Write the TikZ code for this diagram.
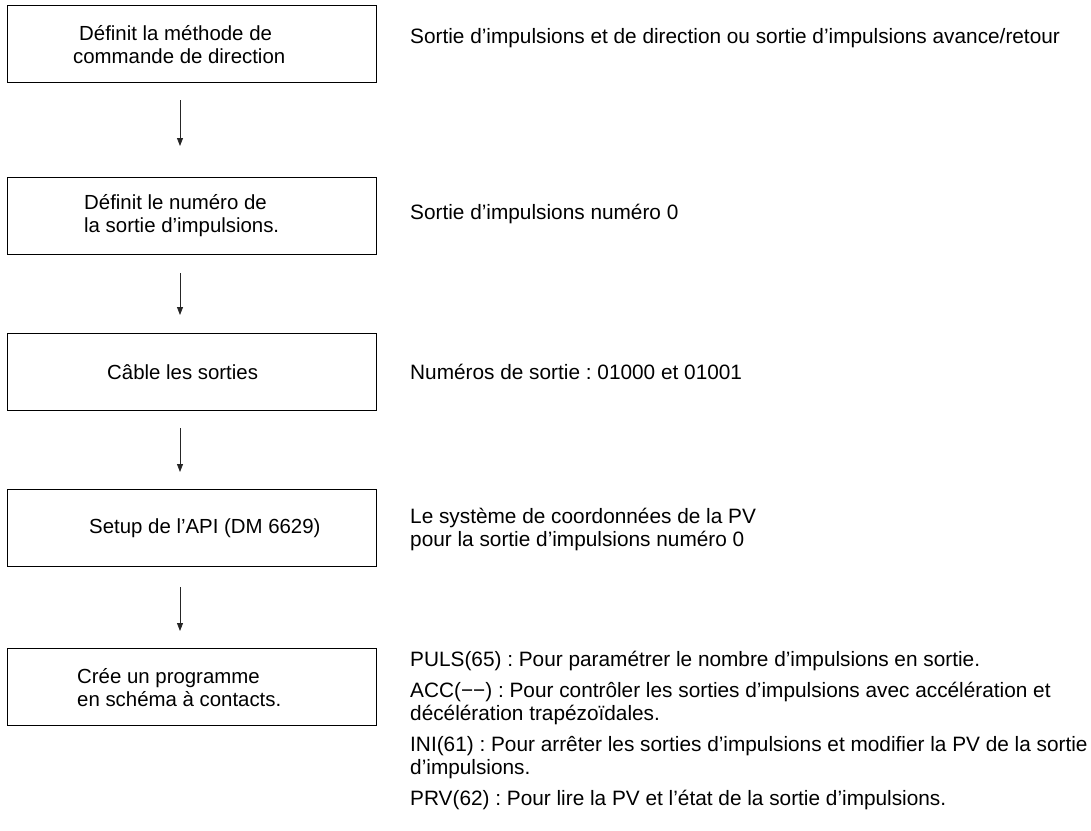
\documentclass[tikz,border=0pt]{standalone}
\usepackage{fontspec}
\setmainfont{Liberation Sans}
\usetikzlibrary{arrows.meta}
\frenchspacing
\begin{document}
\begin{tikzpicture}[x=1pt,y=-1pt,
  box/.style={draw=black,line width=1pt,minimum width=369pt,minimum height=77pt,inner sep=0pt},
  txt/.style={font=\fontsize{20.4}{23}\selectfont\frenchspacing,inner sep=0pt,align=left,anchor=west},
  rtxt/.style={txt,font=\fontsize{20.8}{23}\selectfont\frenchspacing},
  arr/.style={draw=black!85,line width=0.8pt,-{Triangle[length=8pt,width=6pt]}}]
\useasboundingbox (0,0) rectangle (1091,830);
% boxes
\node[box] (b1) at (191.5,43.5) {};
\node[box] (b2) at (191.5,216) {};
\node[box] (b3) at (191.5,371.5) {};
\node[box] (b4) at (191.5,528) {};
\node[box] (b5) at (191.5,686.5) {};
% box texts
\node[txt] (t1) at (73,45) {\hspace*{6pt}Définit la méthode de\\commande de direction};
\node[txt] (t2) at (84,215.5) {Définit le numéro de\\la sortie d’impulsions.};
\node[txt] (t3) at (107,372) {Câble les sorties};
\node[txt] (t4) at (89,528) {Setup de l’API (DM 6629)};
\node[txt] (t5) at (77,688) {Crée un programme\\en schéma à contacts.};
% arrows
\coordinate (a1s) at (180,100); \coordinate (a1e) at (180,146);
\coordinate (a2s) at (180,273); \coordinate (a2e) at (180,315);
\coordinate (a3s) at (180,428); \coordinate (a3e) at (180,472);
\coordinate (a4s) at (180,587); \coordinate (a4e) at (180,631);
\draw[arr] (a1s) -- (a1e);
\draw[arr] (a2s) -- (a2e);
\draw[arr] (a3s) -- (a3e);
\draw[arr] (a4s) -- (a4e);
% right texts
\node[rtxt] (r1) at (410,38) {Sortie d’impulsions et de direction ou sortie d’impulsions avance/retour};
\node[rtxt] (r2) at (410,214) {Sortie d’impulsions numéro 0};
\node[rtxt] (r3) at (410,372) {Numéros de sortie : 01000 et 01001};
\node[rtxt] (r4) at (410,529) {Le système de coordonnées de la PV\\pour la sortie d’impulsions numéro 0};
\node[rtxt,anchor=north west] (r5) at (410,651) {PULS(65) : Pour paramétrer le nombre d’impulsions en sortie.\\[8pt]
ACC(−−) : Pour contrôler les sorties d’impulsions avec accélération et\\
décélération trapézoïdales.\\[8pt]
INI(61) : Pour arrêter les sorties d’impulsions et modifier la PV de la sortie\\
d’impulsions.\\[8pt]
PRV(62) : Pour lire la PV et l’état de la sortie d’impulsions.};
\end{tikzpicture}
\end{document}
